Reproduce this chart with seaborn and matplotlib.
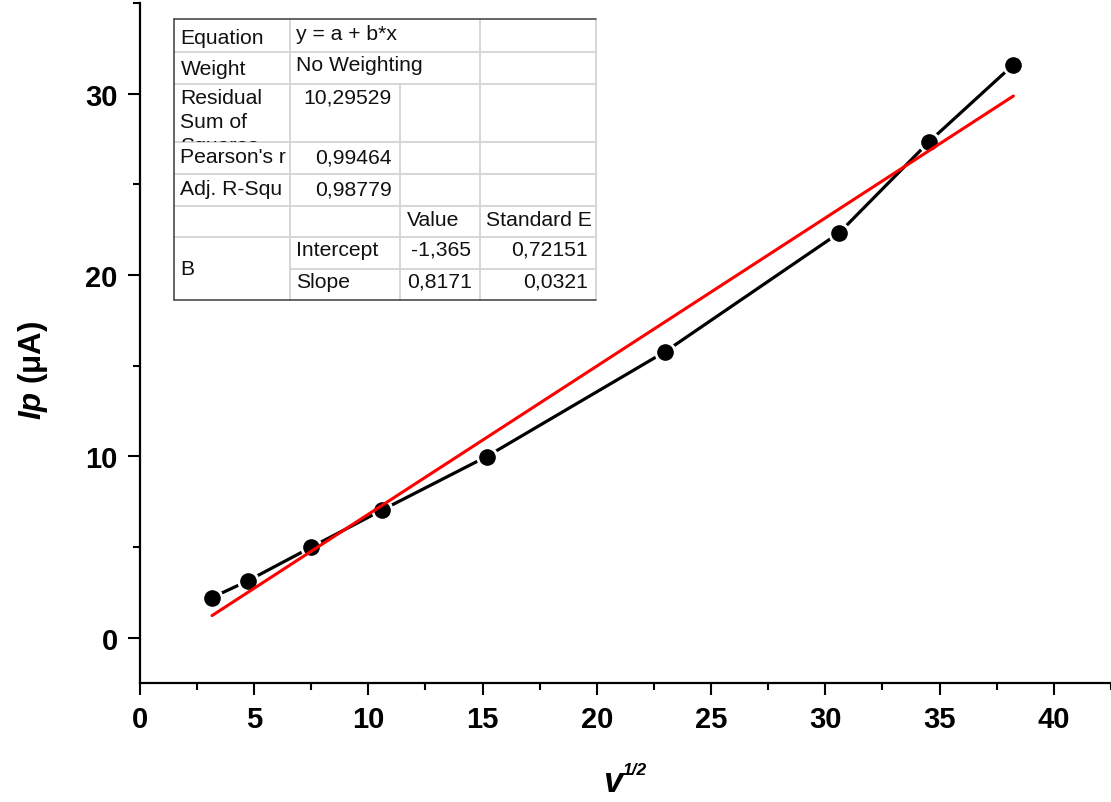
import matplotlib
matplotlib.use("Agg")
import matplotlib.pyplot as plt
from matplotlib import font_manager
from matplotlib.ticker import MultipleLocator
from matplotlib.transforms import Bbox
import numpy as np
import pandas as pd
import seaborn as sns

# Peak current against square root of scan rate
sqrt_scan_rate = [3.16, 4.72, 7.49, 10.59, 15.18, 23.0, 30.61, 34.53, 38.23]
peak_current = [2.21, 3.13, 4.98, 7.03, 9.99, 15.78, 22.33, 27.34, 31.6]

# Linear fit report, y = a + b*x
fit_intercept = -1.365
fit_intercept_err = 0.72151
fit_slope = 0.8171
fit_slope_err = 0.0321
residual_ss = 10.29529
pearson_r = 0.99464
adj_r_squared = 0.98779

x_ticks = [0, 5, 10, 15, 20, 25, 30, 35, 40]
y_ticks = [0, 10, 20, 30]

sns.set_theme(style="ticks")
plt.rcParams["font.family"] = ["Liberation Sans", "DejaVu Sans"]
plt.rcParams["mathtext.fontset"] = "custom"
plt.rcParams["mathtext.it"] = "Liberation Sans:italic:bold"
plt.rcParams["mathtext.rm"] = "Liberation Sans:bold"
plt.rcParams["mathtext.bf"] = "Liberation Sans:bold"

# Narrow face for the x tick numbers when it is installed
installed = {f.name for f in font_manager.fontManager.ttflist}
narrow = "Liberation Sans Narrow" if "Liberation Sans Narrow" in installed \
    else "Liberation Sans"
x_tick_size = 23 if narrow == "Liberation Sans Narrow" else 21

W, H = 1111, 803
fig = plt.figure(figsize=(W / 100, H / 100), dpi=100, facecolor="white")
ax_left, ax_bottom, ax_top = 139.8, 684, 4
ax = fig.add_axes([ax_left / W, 1 - ax_bottom / H, (W - ax_left) / W,
                   (ax_bottom - ax_top) / H])
ax.set_facecolor("white")

data = pd.DataFrame({"x": sqrt_scan_rate, "y": peak_current})
sns.lineplot(data=data, x="x", y="y", ax=ax, color="black", linewidth=2.3,
             marker="o", markersize=14, markeredgecolor="white",
             markeredgewidth=2.0, estimator=None, sort=False, zorder=3)

fit_x = np.array([min(sqrt_scan_rate), max(sqrt_scan_rate)])
fit = pd.DataFrame({"x": fit_x, "y": fit_intercept + fit_slope * fit_x})
sns.lineplot(data=fit, x="x", y="y", ax=ax, color="#ff0000", linewidth=2.2,
             estimator=None, sort=False, zorder=4)

ax.set_xlim(0, 42.5)
ax.set_ylim(-2.5, 35)
for side in ("top", "right"):
    ax.spines[side].set_visible(False)
for side in ("left", "bottom"):
    ax.spines[side].set_linewidth(1.6)
    ax.spines[side].set_color("black")

ax.set_xticks(x_ticks, labels=[str(t) for t in x_ticks],
              fontsize=x_tick_size, fontweight="bold", family=narrow)
ax.set_yticks(y_ticks, labels=[str(t) for t in y_ticks],
              fontsize=21, fontweight="bold")
ax.xaxis.set_minor_locator(MultipleLocator(2.5))
ax.yaxis.set_minor_locator(MultipleLocator(5))
ax.tick_params(which="major", direction="out", length=8.6, width=1.5,
               color="black", labelcolor="black")
ax.tick_params(which="minor", direction="out", length=5, width=1.5,
               color="black")
ax.tick_params(axis="x", which="major", pad=7.5)
ax.tick_params(axis="y", which="major", pad=7.2)

ax.set_ylabel(r"$Ip$ (μA)", fontsize=22.5, fontweight="bold", color="black")
ax.yaxis.set_label_coords(-0.0925, 0.462)

ax.set_xlabel("v", fontsize=25, fontweight="bold", fontstyle="italic",
              color="black")
ax.xaxis.set_label_coords(0.487, -0.1206)
ax.annotate("1/2", xy=(1, 1), xycoords=ax.xaxis.label, xytext=(0.5, -6.5),
            textcoords="offset points", ha="left", va="baseline",
            fontsize=12.5, fontweight="bold", fontstyle="italic",
            color="black")

# Fit report table drawn in pixel space on top of the plot
tab = fig.add_axes([0, 0, 1, 1], zorder=5)
tab.set_xlim(0, W)
tab.set_ylim(H, 0)
tab.axis("off")
tab.patch.set_alpha(0)

cx = [174, 289.5, 400, 479.5, 596]
ry = [20, 52.5, 85, 143, 174.5, 206.5, 238, 269.5, 300.5]
grid_c = "#d6d6d6"
edge_c = "#3c3c3c"

tab.fill_between([cx[0], cx[-1]], ry[0], ry[-1], color="white", zorder=1)
for y in ry[1:7]:
    tab.plot([cx[0], cx[-1]], [y, y], color=grid_c, lw=1.4, zorder=2)
tab.plot([cx[1], cx[-1]], [ry[7], ry[7]], color=grid_c, lw=1.4, zorder=2)
tab.plot([cx[1], cx[1]], [ry[0], ry[-1]], color=grid_c, lw=1.4, zorder=2)
tab.plot([cx[2], cx[2]], [ry[2], ry[-1]], color=grid_c, lw=1.4, zorder=2)
tab.plot([cx[3], cx[3]], [ry[0], ry[-1]], color=grid_c, lw=1.4, zorder=2)
tab.plot([cx[4], cx[4]], [ry[0], ry[-1]], color=grid_c, lw=1.4, zorder=2)
tab.plot([cx[0], cx[-1]], [ry[0], ry[0]], color=edge_c, lw=1.1, zorder=3)
tab.plot([cx[0], cx[-1]], [ry[-1], ry[-1]], color=edge_c, lw=1.1, zorder=3)
tab.plot([cx[0], cx[0]], [ry[0], ry[-1]], color=edge_c, lw=1.1, zorder=3)

fs = 15.2
pad = 6.5


def fmt(v):
    return str(v).replace(".", ",")


def cell_left(col, row, s, base=21):
    tab.text(cx[col] + pad, ry[row] + base, s, ha="left", va="baseline",
             fontsize=fs, color="#111111", zorder=4)


def cell_right(col, row, s, base=21):
    tab.text(cx[col + 1] - 8, ry[row] + base, s, ha="right",
             va="baseline", fontsize=fs, color="#111111", zorder=4)


cell_left(0, 0, "Equation", 23.5)
cell_left(1, 0, "y = a + b*x", 19.5)
cell_left(0, 1, "Weight", 22.5)
cell_left(1, 1, "No Weighting", 18.5)

# Three-line label, the last line cut off by its cell
clip = Bbox.from_extents(cx[0], H - ry[3], cx[1], H - ry[2])
for i, word in enumerate(["Residual", "Sum of", "Squares"]):
    t = tab.text(cx[0] + pad, ry[2] + 19 + 24 * i, word, ha="left",
                 va="baseline", fontsize=fs, color="#111111", zorder=4,
                 clip_on=True)
    t.set_clip_box(clip)
cell_right(1, 2, fmt(residual_ss), 19)

cell_left(0, 3, "Pearson's r", 20)
cell_right(1, 3, fmt(pearson_r), 20)
cell_left(0, 4, "Adj. R-Squ", 20.5)
cell_right(1, 4, fmt(adj_r_squared), 20.5)

cell_left(2, 5, "Value", 19)
cell_left(3, 5, "Standard E", 19)

tab.text(cx[0] + pad, 275, "B", ha="left", va="baseline", fontsize=fs,
         color="#111111", zorder=4)
cell_left(1, 6, "Intercept", 18.5)
cell_right(2, 6, fmt(fit_intercept), 17.5)
cell_right(3, 6, fmt(fit_intercept_err), 17.5)
cell_left(1, 7, "Slope", 18.5)
cell_right(2, 7, fmt(fit_slope), 18.5)
cell_right(3, 7, fmt(fit_slope_err), 18.5)

fig.savefig("out.png", dpi=100, facecolor="white")
